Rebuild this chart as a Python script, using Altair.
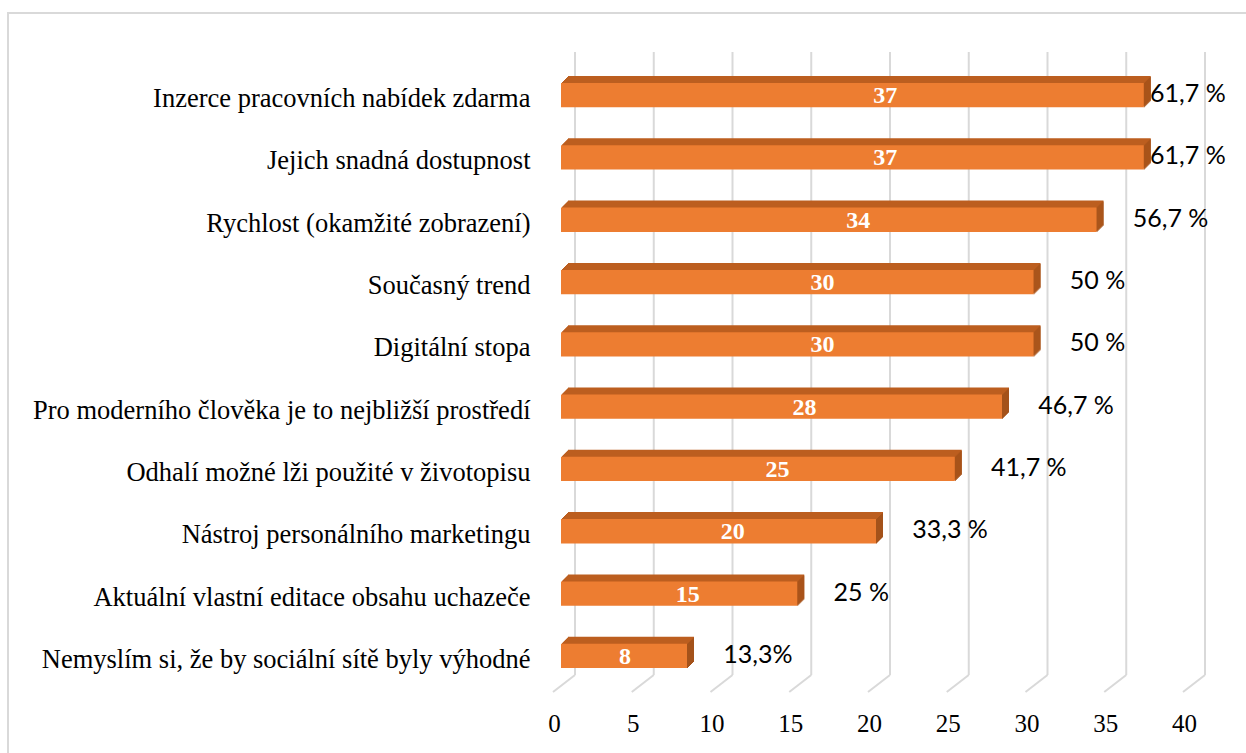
import altair as alt
import pandas as pd

categories = [
    "Inzerce pracovních nabídek zdarma",
    "Jejich snadná dostupnost",
    "Rychlost (okamžité zobrazení)",
    "Současný trend",
    "Digitální stopa",
    "Pro moderního člověka je to nejbližší prostředí",
    "Odhalí možné lži použité v životopisu",
    "Nástroj personálního marketingu",
    "Aktuální vlastní editace obsahu uchazeče",
    "Nemyslím si, že by sociální sítě byly výhodné",
]
counts = [37, 37, 34, 30, 30, 28, 25, 20, 15, 8]
pct_labels = ["61,7 %", "61,7 %", "56,7 %", "50 %", "50 %", "46,7 %", "41,7 %", "33,3 %", "25 %", "13,3%"]
ticks = [0, 5, 10, 15, 20, 25, 30, 35, 40]

df = pd.DataFrame({"cat": categories, "count": counts, "pct": pct_labels})
tdf = pd.DataFrame({"t": ticks})

FRONT = "#ED7D31"
TOP = "#BC5E1F"
SIDE = "#A4521A"
GRID = "#D9D9D9"
DEPTH = 7

xs = alt.Scale(domain=[0, 40], nice=False, zero=True)
xax = alt.Axis(values=ticks, title=None, grid=False, domain=False, ticks=False,
               labelFont="Liberation Serif", labelFontSize=25, labelColor="black",
               labelOffset=-7, labelPadding=36, labelBaseline="middle",
               labelFlush=False, labelOverlap=False)
ys = alt.Scale(paddingInner=0.61, paddingOuter=0.305)
yax = alt.Axis(title=None, grid=False, domain=False, ticks=False,
               labelFont="Liberation Serif", labelFontSize=26.5, labelColor="black",
               labelPadding=31, labelLimit=800, labelOffset=4)
Y = alt.Y("cat:N", sort=categories, scale=ys, axis=yax)


def X(field):
    return alt.X(field, scale=xs, axis=xax)


border = alt.Chart(pd.DataFrame({"a": [0]})).mark_rect(
    fill="white", fillOpacity=0, stroke=GRID, strokeWidth=2
).encode(x=alt.value(-553), x2=alt.value(720), y=alt.value(-51), y2=alt.value(720))

back = alt.Chart(tdf).mark_rule(color=GRID, strokeWidth=2, xOffset=14).encode(
    x=X("t:Q"), y=alt.value(-12), y2=alt.value(611)
)
floor = alt.Chart(tdf).mark_rule(color=GRID, strokeWidth=2, xOffset=-8, x2Offset=14).encode(
    x=X("t:Q"), x2="t:Q", y=alt.value(628), y2=alt.value(611)
)

sweep = [
    alt.Chart(df).mark_bar(color=TOP, xOffset=k, x2Offset=k, yOffset=-k, y2Offset=-k).encode(
        x=X("count:Q"), y=Y
    )
    for k in range(1, DEPTH + 1)
]
side = [
    alt.Chart(df).mark_bar(color=SIDE, xOffset=k, x2Offset=k + 1, yOffset=-k, y2Offset=-k).encode(
        x=X("count:Q"), x2="count:Q", y=Y
    )
    for k in range(0, DEPTH)
]
front = alt.Chart(df).mark_bar(color=FRONT).encode(x=X("count:Q"), y=Y)

count_text = alt.Chart(df).transform_calculate(lx="datum.count * 0.57 - 0.5").mark_text(
    font="Liberation Serif", fontWeight="bold", fontSize=24, color="white",
    align="center", baseline="middle", dy=1
).encode(x=X("lx:Q"), y=Y, text="count:Q")

pct_text = alt.Chart(df).transform_calculate(px="min(datum.count + 2.3, 37.4)").mark_text(
    font="Lato", fontSize=25, color="black", align="left", baseline="middle", dy=-1
).encode(x=X("px:Q"), y=Y, text="pct:N")

chart = alt.layer(border, back, floor, *sweep, *side, front, count_text, pct_text).properties(
    width=630, height=623,
    padding={"left": 561, "top": 64, "right": 55, "bottom": 66},
    autosize=alt.AutoSizeParams(type="none"),
    background="white",
).configure_view(stroke=None)

chart.save("out.html", embed_options={"renderer": "svg", "actions": False})
